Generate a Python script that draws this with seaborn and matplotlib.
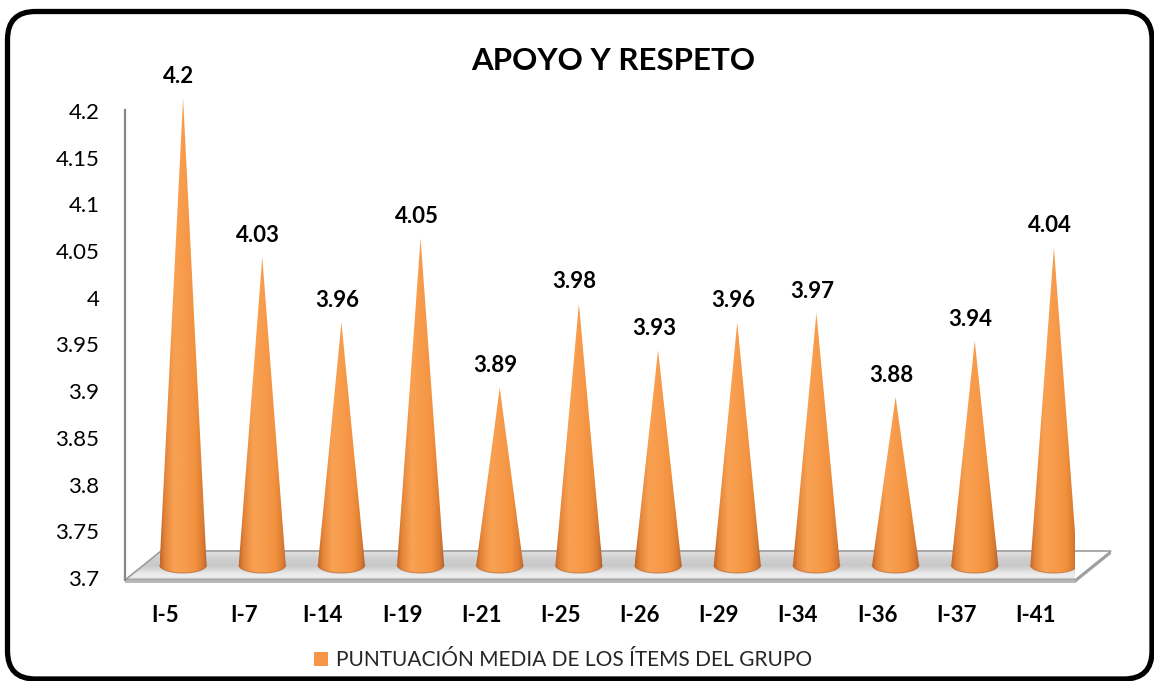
import numpy as np
import pandas as pd
import matplotlib
matplotlib.use("Agg")
import matplotlib.pyplot as plt
import seaborn as sns
from matplotlib.patches import Polygon, Patch, FancyBboxPatch
from matplotlib.colors import LinearSegmentedColormap
from matplotlib.transforms import IdentityTransform
from matplotlib.ticker import FuncFormatter

# ---- data -------------------------------------------------------------
items = ["I-5", "I-7", "I-14", "I-19", "I-21", "I-25",
         "I-26", "I-29", "I-34", "I-36", "I-37", "I-41"]
scores = [4.2, 4.03, 3.96, 4.05, 3.89, 3.98,
          3.93, 3.96, 3.97, 3.88, 3.94, 4.04]
y_ticks = [3.7, 3.75, 3.8, 3.85, 3.9, 3.95, 4.0, 4.05, 4.1, 4.15, 4.2]
title = "APOYO Y RESPETO"
series_name = "PUNTUACIÓN MEDIA DE LOS ÍTEMS DEL GRUPO"

# ---- style ------------------------------------------------------------
sns.set_theme(style="white")
plt.rcParams["font.family"] = ["Lato", "DejaVu Sans"]

ORANGE = "#F79646"
cone_cmap = LinearSegmentedColormap.from_list(
    "cone", [(0.0, "#BF6526"), (0.1, "#E3843A"), (0.3, "#F8A153"),
             (0.5, "#F89C4C"), (0.75, "#F2923F"), (0.92, "#DA7B32"),
             (1.0, "#B5602A")])
floor_cmap = LinearSegmentedColormap.from_list(
    "floor", [(0.0, "#A9A9A9"), (0.1, "#F2F2F2"), (0.25, "#E6E6E6"),
              (0.5, "#C8C8C8"), (0.8, "#D2D2D2"), (1.0, "#E3E3E3")])

W, H, DPI = 1154, 681, 100
Y0, Y1 = 3.68, 4.25
PX_Y = 934.0                      # pixels per data unit (y)
PX_X = 950.0 / len(items)         # pixels per category (x)

fig = plt.figure(figsize=(W / DPI, H / DPI), dpi=DPI)
fig.patch.set_facecolor("white")
ax_bottom = 103 - (3.7 - Y0) * PX_Y
ax = fig.add_axes([125 / W, ax_bottom / H, 950 / W, (Y1 - Y0) * PX_Y / H])
ax.set_facecolor("none")

df = pd.DataFrame({"item": items, "score": scores})
sns.barplot(data=df, x="item", y="score", ax=ax, color=ORANGE, width=0.6)

ax.set_xlim(-0.5, len(items) - 0.5)
ax.set_ylim(Y0, Y1)

ux = 1.0 / PX_X   # one pixel in x data units
uy = 1.0 / PX_Y   # one pixel in y data units

# ---- floor (thin 3D slab) ----------------------------------------------
yf = 3.7 - 2 * uy
depth_x, depth_y = 36 * ux, 29 * uy
x_l, x_r = -0.5, len(items) - 0.5
floor_top = Polygon([(x_l, yf), (x_r, yf), (x_r + depth_x, yf + depth_y),
                     (x_l + depth_x, yf + depth_y)], closed=True,
                    facecolor="none", edgecolor="#9C9C9C", lw=1.2,
                    zorder=2, clip_on=False)
ax.add_patch(floor_top)
fgrad = np.linspace(0, 1, 128).reshape(-1, 1)
fim = ax.imshow(fgrad, extent=(x_l, x_r + depth_x, yf, yf + depth_y),
                origin="lower", cmap=floor_cmap, aspect="auto",
                interpolation="bicubic", zorder=1)
fim.set_clip_path(floor_top)
ax.add_patch(Polygon([(x_l, yf), (x_r, yf), (x_r, yf - 3 * uy),
                      (x_l, yf - 3 * uy)], closed=True,
                     facecolor="#B8B8B8", edgecolor="none",
                     zorder=2, clip_on=False))
ax.add_patch(Polygon([(x_r, yf), (x_r + depth_x, yf + depth_y),
                      (x_r + depth_x, yf + depth_y - 3 * uy),
                      (x_r, yf - 3 * uy)], closed=True,
                     facecolor="#A0A0A0", edgecolor="none",
                     zorder=2, clip_on=False))

# ---- cones built from the bar geometry ---------------------------------
shift_x, shift_y = 18.5 * ux, 13 * uy
half_w, half_h = 23.5 * ux, 8 * uy
theta = np.linspace(np.pi, 2 * np.pi, 80)
grad = np.linspace(0, 1, 256).reshape(1, -1)

for bar, val in zip(ax.patches[:len(items)], scores):
    bar.set_visible(False)
    cx = bar.get_x() + bar.get_width() / 2 + shift_x
    base = 3.7 + shift_y
    top = bar.get_height() + shift_y
    pts = [(cx, top)] + [(cx + half_w * np.cos(t), base + half_h * np.sin(t))
                         for t in theta]
    cone = Polygon(pts, closed=True, facecolor="none", edgecolor="none",
                   zorder=3)
    ax.add_patch(cone)
    im = ax.imshow(grad, extent=(cx - half_w, cx + half_w,
                                 base - half_h, top),
                   origin="lower", cmap=cone_cmap, aspect="auto",
                   interpolation="bicubic", zorder=3)
    im.set_clip_path(cone)
    ax.plot(cx + half_w * np.cos(theta), base + half_h * np.sin(theta),
            color="#B3612A", lw=0.8, alpha=0.6, zorder=4)
    ax.annotate(f"{val:g}", (cx, top), xytext=(-3, 11), textcoords="offset points",
                ha="center", va="baseline", fontsize=16, fontweight="bold",
                color="black", annotation_clip=False, zorder=5)

ax.set_xlim(-0.5, len(items) - 0.5)
ax.set_ylim(Y0, Y1)

# ---- axes ---------------------------------------------------------------
ax.set_yticks(y_ticks)
ax.yaxis.set_major_formatter(FuncFormatter(lambda v, _: f"{v:g}"))
ax.tick_params(axis="y", length=0, pad=18.5, labelsize=16, labelcolor="black")
ax.tick_params(axis="x", length=0, pad=5.8, labelsize=16, labelcolor="black")
for t in ax.get_xticklabels():
    t.set_fontweight("bold")
ax.set_xlabel("")
ax.set_ylabel("")
for side in ("top", "right", "bottom"):
    ax.spines[side].set_visible(False)
ax.spines["left"].set_color("#878787")
ax.spines["left"].set_linewidth(1.6)
ax.spines["left"].set_bounds(3.7 - 2 * uy, 4.2 + 1 * uy)
ax.grid(False)

# ---- title, legend, frame ----------------------------------------------
fig.text(613 / W, 1 - 70 / H, title, ha="center", va="baseline",
         fontsize=22.5, fontweight="bold", color="black")

fig.legend(handles=[Patch(facecolor=ORANGE, edgecolor="none")],
           labels=[series_name], loc="center",
           bbox_to_anchor=(563 / W, 1 - 660 / H), frameon=False,
           fontsize=15, handlelength=0.68, handleheight=0.68,
           handletextpad=0.4, borderpad=0)

frame = FancyBboxPatch((7.5, 2), 1144.5, 667.5,
                       boxstyle="round,pad=0,rounding_size=28",
                       transform=IdentityTransform(), fill=False,
                       edgecolor="black", linewidth=3.8)
fig.add_artist(frame)

fig.savefig("out.png", dpi=DPI)
